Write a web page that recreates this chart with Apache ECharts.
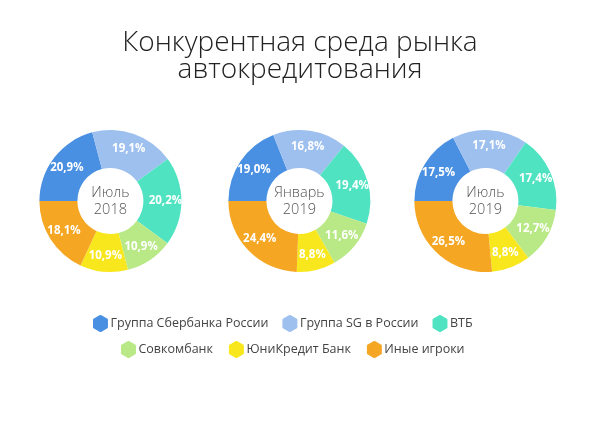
<!DOCTYPE html>
<html><head><meta charset="utf-8">
<script src="https://cdn.jsdelivr.net/npm/echarts@6/dist/echarts.min.js"></script>
<style>html,body{margin:0;padding:0;background:#fff}#c{width:600px;height:424px}</style>
</head><body><div id="c"></div>
<script>
const categories = ['Группа Сбербанка России','Группа SG в России','ВТБ','Совкомбанк','ЮниКредит Банк','Иные игроки'];
const periods = ['Июль\n2018','Январь\n2019','Июль\n2019'];
const jul2018 = [20.9,19.1,20.2,10.9,10.9,18.1];
const jan2019 = [19.0,16.8,19.4,11.6,8.8,24.4];
const jul2019 = [17.5,17.1,17.4,12.7,8.8,26.5];
const seriesValues = [jul2018, jan2019, jul2019];
const colors = ['#4A90E2','#9EC0EF','#50E3C2','#B8E986','#F8E71C','#F5A623'];
const FONT = 'Open Sans';
const hex = 'path://M50,0 Q53,0 56,2 L91,22 Q94,24 94,28 L94,72 Q94,76 91,78 L56,98 Q53,100 50,100 Q47,100 44,98 L9,78 Q6,76 6,72 L6,28 Q6,24 9,22 L44,2 Q47,0 50,0 Z';
const centersX = ['18.4%','49.9%','80.9%'];
const chart = echarts.init(document.getElementById('c'), null, {renderer:'canvas'});
const series = seriesValues.map((vals, i) => ({
  type:'pie', name: periods[i], center:[centersX[i], 201], radius:[33,71], startAngle:180,
  clockwise:true, avoidLabelOverlap:false,
  label:{show:true, position:'inside', color:'#fff', fontWeight:'bold', fontSize:11.5, fontFamily:FONT,
    formatter: p => p.value.toFixed(1).replace('.', ',') + '%'},
  labelLine:{show:false},
  emphasis:{disabled:true},
  itemStyle:{borderWidth:0},
  data: categories.map((c, j) => ({name:c, value:vals[j]}))
}));
seriesValues.forEach((vals, i) => {
  series.push({
    type:'pie', center:[centersX[i], 201], radius:[0,0], silent:true,
    label:{show:true, position:'center', formatter: periods[i], color:'#555', fontSize:14.5, lineHeight:17, fontFamily:FONT, fontWeight:300},
    data:[{value:1, name:'', itemStyle:{color:'transparent'}}], legendHoverLink:false
  });
});
chart.setOption({
  color: colors,
  title:{text:'Конкурентная среда рынка\nавтокредитования', left:'center', top:25,
    textStyle:{fontFamily:FONT, fontWeight:300, fontSize:28, lineHeight:27, color:'#222'}},
  legend:[
    {data:categories.slice(0,3), left:88, top:310, itemWidth:16, itemHeight:17, itemGap:14, icon:hex,
      textStyle:{fontFamily:FONT, fontSize:12.5, color:'#444', padding:[0,0,0,-3]}, selectedMode:false},
    {data:categories.slice(3), left:116, top:336, itemWidth:16, itemHeight:17, itemGap:16, icon:hex,
      textStyle:{fontFamily:FONT, fontSize:12.5, color:'#444', padding:[0,0,0,-3]}, selectedMode:false}
  ],
  series
});
</script></body></html>
